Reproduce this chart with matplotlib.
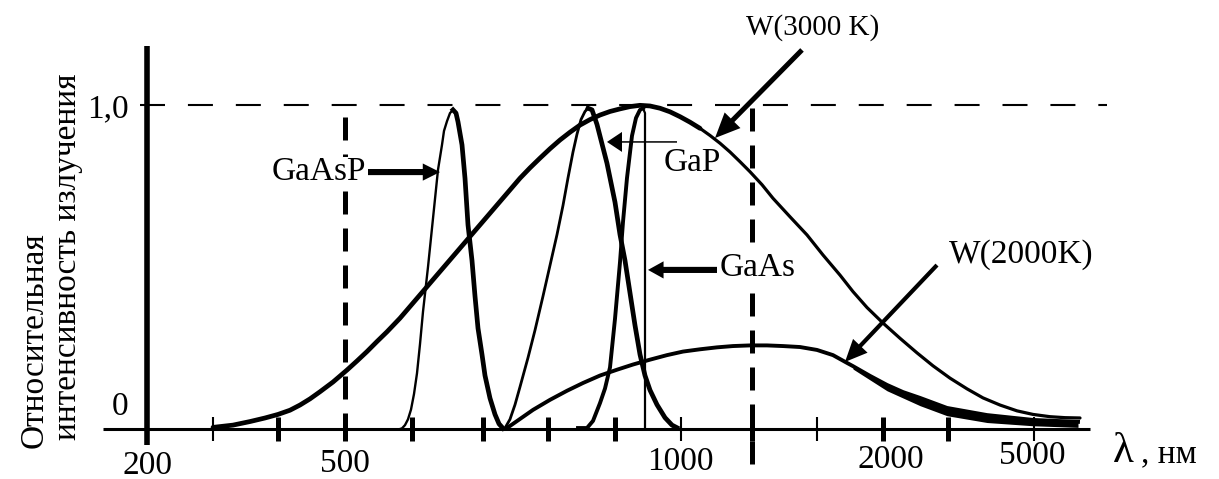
import matplotlib
matplotlib.use('Agg')
import matplotlib.pyplot as plt
import numpy as np

plt.rcParams['font.family'] = ['Liberation Serif', 'DejaVu Serif']

# Schematic wavelength axis: x is position along the axis, y is relative intensity (0..1)
w3000_x = [213, 233, 250, 265, 278, 290, 300, 310, 320, 333, 347, 357, 367, 377, 387, 400, 410,
           420, 430, 440, 450, 460, 470, 480, 490, 500, 510, 520, 530, 540, 550, 560, 570, 580,
           590, 600, 610, 620, 630, 640, 650, 660, 670, 680, 690, 700, 710, 720, 730, 740, 750,
           762, 773, 790, 807, 823, 840, 853, 867, 883, 900, 917, 933, 950, 967, 983, 1000,
           1017, 1033, 1050, 1065, 1080]
w3000_y = [0.005, 0.012, 0.023, 0.034, 0.045, 0.058, 0.074, 0.093, 0.115, 0.145, 0.182, 0.210,
           0.239, 0.270, 0.300, 0.342, 0.378, 0.414, 0.450, 0.486, 0.522, 0.558, 0.594, 0.630,
           0.666, 0.702, 0.738, 0.774, 0.806, 0.836, 0.865, 0.892, 0.916, 0.938, 0.955, 0.969,
           0.980, 0.988, 0.995, 0.999, 0.997, 0.990, 0.979, 0.964, 0.947, 0.928, 0.906, 0.882,
           0.855, 0.825, 0.794, 0.754, 0.712, 0.655, 0.599, 0.537, 0.475, 0.424, 0.375, 0.327,
           0.280, 0.235, 0.195, 0.157, 0.124, 0.096, 0.074, 0.056, 0.045, 0.038, 0.035, 0.034]

w2000_x = [507, 520, 533, 550, 567, 583, 600, 617, 633, 650, 667, 683, 700, 717, 733, 750, 767,
           783, 800, 817, 833, 847, 853, 870, 887, 903, 920, 947, 987, 1033, 1078]
w2000_y = [0.003, 0.031, 0.059, 0.090, 0.118, 0.142, 0.165, 0.183, 0.199, 0.214, 0.228, 0.239,
           0.246, 0.252, 0.256, 0.258, 0.258, 0.256, 0.253, 0.244, 0.228, 0.204, 0.194, 0.164,
           0.136, 0.114, 0.096, 0.065, 0.043, 0.028, 0.022]
# lower edge of the thick tail of W(2000K)
w2000_tail_x = [853, 887, 920, 947, 987, 1033, 1078]
w2000_tail_lo = [0.185, 0.118, 0.072, 0.041, 0.020, 0.010, 0.005]
w2000_tail_hi = [0.194, 0.136, 0.096, 0.065, 0.043, 0.028, 0.022]

gaasp_x = [400, 402, 405, 408, 411, 414, 417, 420, 423, 428, 433, 438, 442, 444, 447, 450, 453,
           456, 458, 462, 465, 468, 472, 475, 478, 482, 485, 490, 495, 499, 503]
gaasp_y = [0.0, 0.002, 0.012, 0.030, 0.060, 0.108, 0.172, 0.262, 0.362, 0.500, 0.650, 0.800,
           0.877, 0.920, 0.950, 0.975, 0.985, 0.975, 0.948, 0.877, 0.774, 0.630, 0.520, 0.410,
           0.311, 0.230, 0.165, 0.095, 0.045, 0.016, 0.002]
gaasp_peak = 16

gap_x = [505, 510, 515, 520, 528, 535, 543, 550, 557, 563, 568, 573, 577, 581, 585, 588, 592,
         597, 602, 607, 611, 615, 620, 625, 630, 635, 640, 645, 650, 657, 665, 672, 677]
gap_y = [0.003, 0.030, 0.075, 0.130, 0.220, 0.305, 0.410, 0.505, 0.600, 0.690, 0.775, 0.855,
         0.910, 0.955, 0.980, 0.990, 0.985, 0.940, 0.880, 0.820, 0.760, 0.700, 0.600, 0.520,
         0.420, 0.320, 0.230, 0.165, 0.120, 0.075, 0.035, 0.012, 0.004]
gap_peak = 15

gaas_x = [578, 587, 593, 600, 605, 610, 615, 620, 623, 627, 632, 636, 640, 643, 645, 645]
gaas_y = [0.003, 0.003, 0.025, 0.080, 0.125, 0.190, 0.340, 0.515, 0.639, 0.775, 0.905, 0.960,
          0.985, 0.990, 0.975, 0.0]

tick_x = [213, 278, 345, 412, 483, 548, 615, 681, 752, 817, 883, 948, 1034]
tick_thick = [False, True, True, True, True, True, True, False, True, False, True, True, False]

label_x = [148, 345, 680, 891, 1032]
label_y = [-0.138, -0.134, -0.127, -0.120, -0.108]
labels = ['200', '500', '1000', '2000', '5000']

fig = plt.figure(figsize=(12.19, 4.79), dpi=100)
ax = fig.add_axes([0, 0, 1, 1])
ax.set_xlim(0, 1219)
ax.set_ylim(-0.15432, 1.32407)
ax.axis('off')

k = 'black'

# axes
ax.plot([147, 147], [-0.049, 1.182], color=k, lw=4, solid_capstyle='butt')
ax.plot([103, 1090], [0, 0], color=k, lw=2.2, solid_capstyle='butt')
for x, thick in zip(tick_x, tick_thick):
    ax.plot([x, x], [-0.037, 0.037], color=k, lw=3.6 if thick else 1.5, solid_capstyle='butt')

# dashed guides
ax.plot([140, 1107], [1.0, 1.0], color=k, lw=1.5, linestyle=(0, (12, 11)))
ax.plot([345, 345], [0.963, -0.034], color=k, lw=3.6, linestyle=(0, (4.6, 2.8)), zorder=1)
ax.plot([752, 752], [0.991, -0.136], color=k, lw=3.6, linestyle=(0, (4.6, 2.8)), zorder=1)

# W(3000 K): thick rising side, thinner falling side
split = w3000_x.index(700)
ax.plot(w3000_x[:split + 1], w3000_y[:split + 1], color=k, lw=3.4, solid_capstyle='round',
        solid_joinstyle='round')
ax.plot(w3000_x[split:], w3000_y[split:], color=k, lw=2.3, solid_capstyle='round',
        solid_joinstyle='round')

# W(2000K)
ax.plot(w2000_x, w2000_y, color=k, lw=2.8, solid_joinstyle='round')
ax.fill_between(w2000_tail_x, w2000_tail_lo, w2000_tail_hi, color=k, lw=0)

# LED spectra
ax.plot(gaasp_x[:gaasp_peak + 1], gaasp_y[:gaasp_peak + 1], color=k, lw=1.7, solid_joinstyle='round')
ax.plot(gaasp_x[gaasp_peak:], gaasp_y[gaasp_peak:], color=k, lw=3.4, solid_joinstyle='round')
ax.plot(gap_x[:gap_peak + 1], gap_y[:gap_peak + 1], color=k, lw=2.0, solid_joinstyle='round')
ax.plot(gap_x[gap_peak:], gap_y[gap_peak:], color=k, lw=3.4, solid_joinstyle='round')
ax.plot(gaas_x[:-2], gaas_y[:-2], color=k, lw=2.8, solid_joinstyle='round')
ax.plot(gaas_x[-3:], gaas_y[-3:], color=k, lw=1.6, solid_joinstyle='round')

# labels with arrows
box = dict(facecolor='white', edgecolor='none', pad=0)
fs = 24
ax.text(366, 0.793, 'GaAsP', fontsize=fs, ha='right', va='center', bbox=box, zorder=5)
ax.text(692, 0.821, 'GaP', fontsize=fs, ha='center', va='center', zorder=5)
ax.text(720, 0.497, 'GaAs', fontsize=fs, ha='left', va='center', bbox=box, zorder=5)
ax.text(813, 1.238, 'W(3000 K)', fontsize=21, ha='center', va='center', zorder=5)
ax.text(1021, 0.537, 'W(2000K)', fontsize=fs, ha='center', va='center', zorder=5)

def arrow(tail, tip, tw, hw, hl):
    ax.annotate('', xy=tip, xytext=tail,
                arrowprops=dict(arrowstyle=f'simple,head_length={hl},head_width={hw},tail_width={tw}',
                                color=k, lw=0, shrinkA=0, shrinkB=0, mutation_scale=20),
                zorder=6)

arrow((368, 0.793), (440, 0.793), 0.22, 0.62, 0.62)
arrow((677, 0.886), (607, 0.886), 0.055, 0.72, 0.54)
arrow((717, 0.491), (648, 0.491), 0.22, 0.62, 0.56)
arrow((802, 1.170), (715, 0.898), 0.18, 0.8, 0.9)
arrow((937, 0.506), (845, 0.207), 0.15, 0.72, 0.8)

# axis texts
ax.text(129, 0.963, '1,0', fontsize=fs, ha='right', va='baseline')
ax.text(128, 0.043, '0', fontsize=fs, ha='right', va='baseline')
for x, y, s in zip(label_x, label_y, labels):
    ax.text(x, y, s, fontsize=fs, ha='center', va='baseline')
ax.text(1113, -0.102, 'λ', fontsize=31, ha='left', va='baseline')
ax.text(1141, -0.102, ', нм', fontsize=fs, ha='left', va='baseline')

ax.text(43, -0.059, 'Относительная', fontsize=fs, rotation=90, rotation_mode='anchor',
        ha='left', va='baseline')
ax.text(76, -0.034, 'интенсивность излучения', fontsize=fs, rotation=90, rotation_mode='anchor',
        ha='left', va='baseline')

fig.savefig('out.png', dpi=100, facecolor='white')
